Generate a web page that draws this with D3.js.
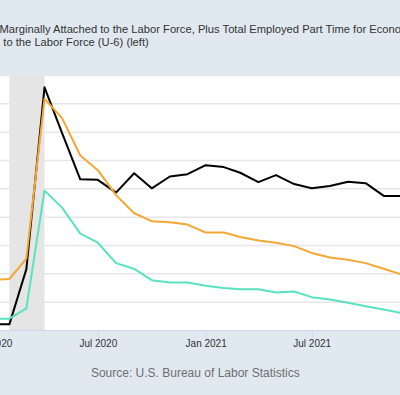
<!DOCTYPE html>
<html>
<head>
<meta charset="utf-8">
<script src="https://cdn.jsdelivr.net/npm/d3@7"></script>
<style>
  body { margin: 0; background: #e1e9f0; }
  svg { display: block; font-family: "Liberation Sans", Arial, sans-serif; }
</style>
</head>
<body>
<div id="chart"></div>
<script>
// Data (monthly, first of month)
const months = [
  "2020-01", "2020-02", "2020-03", "2020-04", "2020-05", "2020-06",
  "2020-07", "2020-08", "2020-09", "2020-10", "2020-11", "2020-12",
  "2021-01", "2021-02", "2021-03", "2021-04", "2021-05", "2021-06",
  "2021-07", "2021-08", "2021-09", "2021-10", "2021-11", "2021-12"
];

// U-6 rate, percent (left)
const u6 = [6.9, 7.0, 8.8, 22.9, 21.2, 17.9, 16.6, 14.4, 12.8, 12.1, 12.0, 11.8,
            11.1, 11.1, 10.7, 10.4, 10.2, 9.9, 9.3, 8.9, 8.7, 8.4, 7.9, 7.4];

// Unemployment rate, percent (left)
const u3 = [3.5, 3.5, 4.4, 14.8, 13.3, 11.0, 10.2, 8.4, 7.9, 6.9, 6.7, 6.7,
            6.4, 6.2, 6.1, 6.1, 5.8, 5.9, 5.4, 5.2, 4.9, 4.6, 4.3, 4.0];

// Right-axis series, thousands of persons
const rightSeries = [4820, 4820, 5990, 9840, 8870, 7890, 7880, 7610, 8020, 7700, 7950, 8000,
                     8190, 8150, 8030, 7830, 7980, 7790, 7700, 7750, 7840, 7810, 7540, 7540];

const recession = ["2020-02", "2020-04"];
const xTicks = ["2020-01", "2020-07", "2021-01", "2021-07"];
const leftTicks = [5, 7.5, 10, 12.5, 15, 17.5, 20, 22.5, 25];

const titleLine1 = "Marginally Attached to the Labor Force, Plus Total Employed Part Time for Economic Reasons,";
const titleLine2 = "to the Labor Force (U-6) (left)";
const sourceText = "Source: U.S. Bureau of Labor Statistics";

const fullWidth = 400;
const fullHeight = 395;
const plot = { top: 75, bottom: 330 };

const parse = d3.timeParse("%Y-%m");

const svg = d3.select("#chart")
  .append("svg")
  .attr("width", fullWidth)
  .attr("height", fullHeight);

// Scales
const xScale = d3.scaleTime()
  .domain([parse("2020-01"), parse("2021-07")])
  .range([-8.8, 311.7]);

const yLeft = d3.scaleLinear()
  .domain([2.5, 25])
  .range([plot.bottom, plot.top]);

const yRight = d3.scaleLinear()
  .domain([4700, 10100])
  .range([plot.bottom, plot.top]);

// Background + plot area
svg.append("rect")
  .attr("width", fullWidth)
  .attr("height", fullHeight)
  .attr("fill", "#e1e9f0");

svg.append("rect")
  .attr("x", 0)
  .attr("y", plot.top)
  .attr("width", fullWidth)
  .attr("height", plot.bottom - plot.top)
  .attr("fill", "#ffffff");

// Recession shading
svg.append("rect")
  .attr("x", xScale(parse(recession[0])))
  .attr("y", plot.top)
  .attr("width", xScale(parse(recession[1])) - xScale(parse(recession[0])))
  .attr("height", plot.bottom - plot.top)
  .attr("fill", "#e5e5e5");

// Grid lines
svg.append("g")
  .attr("class", "grid")
  .call(d3.axisLeft(yLeft).tickValues(leftTicks).tickSize(-fullWidth).tickFormat(""))
  .call(g => g.select(".domain").remove())
  .selectAll("line")
  .attr("stroke", "#e6e6e6")
  .attr("stroke-width", 1.5);

// X Axis
const xAxis = svg.append("g")
  .attr("transform", `translate(0,${plot.bottom})`)
  .call(d3.axisBottom(xScale)
    .tickValues(xTicks.map(parse))
    .tickSize(8)
    .tickPadding(2)
    .tickFormat(d3.timeFormat("%b %Y")));

xAxis.select(".domain")
  .attr("d", `M-20,0.5H${fullWidth + 20}`)
  .attr("stroke", "#ccd6eb");
xAxis.selectAll(".tick line").attr("stroke", "#ccd6eb");
xAxis.selectAll(".tick text")
  .attr("fill", "#333")
  .style("font-size", "10px")
  .style("font-family", "Liberation Sans, Arial, sans-serif");

// Lines
const series = [
  { values: rightSeries, scale: yRight, color: "#000000" },
  { values: u6, scale: yLeft, color: "#f5a733" },
  { values: u3, scale: yLeft, color: "#58e2c2" }
];

series.forEach(s => {
  const line = d3.line()
    .x((d, i) => xScale(parse(months[i])))
    .y(d => s.scale(d));

  svg.append("path")
    .datum(s.values)
    .attr("fill", "none")
    .attr("stroke", s.color)
    .attr("stroke-width", 2)
    .attr("stroke-linejoin", "round")
    .attr("d", line);
});

// Title
svg.append("text")
  .attr("x", -0.5)
  .attr("y", 33.3)
  .attr("fill", "#333")
  .style("font-size", "11.2px")
  .text(titleLine1);

svg.append("text")
  .attr("x", 3.3)
  .attr("y", 46.3)
  .attr("fill", "#333")
  .style("font-size", "11.2px")
  .text(titleLine2);

// Source
svg.append("text")
  .attr("x", 195.3)
  .attr("y", 377)
  .attr("text-anchor", "middle")
  .attr("fill", "#6e6e6e")
  .style("font-size", "12px")
  .text(sourceText);
</script>
</body>
</html>
